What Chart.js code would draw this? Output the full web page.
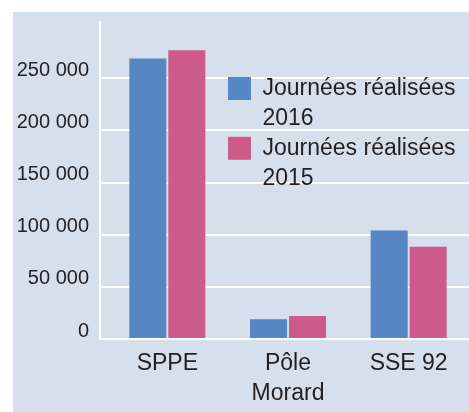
<!DOCTYPE html>
<html>
<head>
<meta charset="utf-8">
<script src="https://cdn.jsdelivr.net/npm/chart.js@4/dist/chart.umd.min.js"></script>
<style>
  html, body { margin: 0; padding: 0; background: #fff; overflow: hidden; }
  #panel { position: absolute; left: 13px; top: 12px; width: 456px; height: 400px; background: #d5e0ec; }
</style>
</head>
<body>
<div id="panel"><canvas id="chart" width="456" height="400"></canvas></div>
<script>
// ---------- data ----------
const categories = [["SPPE"], ["Pôle", "Morard"], ["SSE 92"]];
const label2016  = ["Journées réalisées", "2016"];
const label2015  = ["Journées réalisées", "2015"];
const days2016   = [269000, 19000, 104000];
const days2015   = [277000, 22000, 88500];
const yTicks     = [0, 50000, 100000, 150000, 200000, 250000];

const FONT  = "'Liberation Sans', Arial, sans-serif";
const INK   = "#231f20";
const BLUE  = "#5686c4";
const PINK  = "#cc5a8a";

const fmt = v => String(v).replace(/\B(?=(\d{3})+(?!\d))/g, " ");

// white vertical axis line, sits a few px left of the plot
const axisLine = {
  id: "axisLine",
  beforeDatasetsDraw(chart) {
    const { ctx, chartArea: a } = chart;
    ctx.save();
    ctx.strokeStyle = "#fff";
    ctx.lineWidth = 2;
    ctx.beginPath();
    ctx.moveTo(a.left - 7, a.top);
    ctx.lineTo(a.left - 7, a.bottom + 1);
    ctx.stroke();
    ctx.restore();
  }
};

// put the legend in the top-right of the plot
const legendSpot = {
  id: "legendSpot",
  afterLayout(chart) {
    const lg = chart.legend, a = chart.chartArea;
    lg.left = a.left + 121;
    lg.right = a.right;
    lg.top = a.top + 56;
    lg.bottom = a.bottom;
  }
};

new Chart(document.getElementById("chart"), {
  type: "bar",
  data: {
    labels: categories,
    datasets: [
      { label: label2016, data: days2016, backgroundColor: BLUE, borderWidth: 0 },
      { label: label2015, data: days2015, backgroundColor: PINK, borderWidth: 0 }
    ]
  },
  options: {
    responsive: false,
    animation: false,
    devicePixelRatio: 1,
    categoryPercentage: 0.646,
    barPercentage: 0.95,
    layout: { padding: { top: 9, bottom: 3, left: 0, right: 0 } },
    plugins: {
      tooltip: { enabled: false },
      legend: {
        position: "chartArea",
        align: "start",
        labels: {
          color: INK,
          font: { family: FONT, size: 23, lineHeight: 1.3 },
          boxWidth: 23,
          boxHeight: 23,
          padding: 0
        }
      }
    },
    scales: {
      x: {
        grid: { display: false, drawTicks: false },
        border: { display: false },
        afterFit: s => { s.height = 70; s.paddingLeft = 0; s.paddingRight = 0; },
        ticks: {
          color: INK,
          font: { family: FONT, size: 23, lineHeight: 1.3 },
          padding: 10,
          maxRotation: 0,
          autoSkip: false
        }
      },
      y: {
        min: 0,
        max: 305000,
        afterBuildTicks: s => { s.ticks = yTicks.map(v => ({ value: v })); },
        afterFit: s => { s.width = 94; s.paddingTop = 0; s.paddingBottom = 0; },
        border: { display: false },
        grid: { color: "#fff", lineWidth: 2, drawTicks: true, tickLength: 7, tickColor: "#fff" },
        ticks: {
          color: INK,
          font: { family: FONT, size: 20 },
          padding: 11,
          labelOffset: -8,
          callback: v => fmt(v)
        }
      }
    }
  },
  plugins: [axisLine, legendSpot]
});
</script>
</body>
</html>
